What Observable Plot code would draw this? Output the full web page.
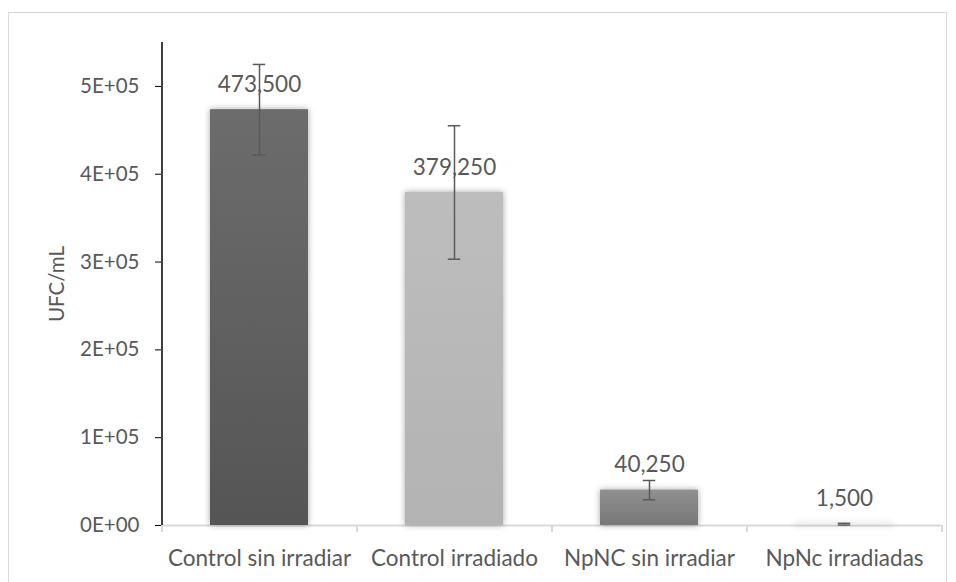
<!DOCTYPE html>
<html>
<head>
<meta charset="utf-8">
<script src="https://cdn.jsdelivr.net/npm/d3@7"></script>
<script src="https://cdn.jsdelivr.net/npm/@observablehq/plot@0.6"></script>
<style>
  html, body { margin: 0; padding: 0; background: #fff; overflow: hidden; }
  #wrap { position: relative; width: 956px; height: 582px; }
  #frame { position: absolute; left: 8px; top: 12px; width: 939px; height: 600px;
           border: 1.5px solid #d9d9d9; box-sizing: border-box; }
  #chart { position: absolute; left: 0; top: 0; }
  .bars rect { filter: drop-shadow(0px 0px 3px rgba(0,0,0,0.35)); }
</style>
</head>
<body>
<div id="wrap"><div id="frame"></div><div id="chart"></div></div>
<script>
const categories = ["Control sin irradiar", "Control irradiado", "NpNC sin irradiar", "NpNc irradiadas"];
const values = [473500, 379250, 40250, 1500];
const errors = [51500, 76000, 11000, 1000];
const yTicks = [0, 100000, 200000, 300000, 400000, 500000];
const yTickLabels = ["0E+00", "1E+05", "2E+05", "3E+05", "4E+05", "5E+05"];
const yMax = 550000;
const yLabel = "UFC/mL";

// gradient styles (top, bottom) per bar
const gradients = [["#6c6c6c", "#555555"], ["#bdbdbd", "#b3b3b3"], ["#909090", "#787878"], ["#ececec", "#e2e2e2"]];

const data = categories.map((c, i) => ({cat: c, value: values[i], err: errors[i], idx: i}));

const W = 956, H = 582, mL = 161, mR = 15, mT = 42, mB = 57;
const step = (W - mL - mR) / categories.length;
const fontFam = "Lato, 'Open Sans', sans-serif";
const textColor = "#595959";
const fs = 22.5;

const plot = Plot.plot({
  width: W, height: H,
  marginLeft: mL, marginRight: mR, marginTop: mT, marginBottom: mB,
  style: {fontFamily: fontFam, fontSize: fs + "px", color: textColor, background: "transparent", overflow: "visible"},
  x: {domain: categories, paddingInner: 0.5, paddingOuter: 0.25},
  y: {domain: [0, yMax]},
  color: {type: "identity"},
  marks: [
    Plot.ruleY([0], {stroke: "#d9d9d9", strokeWidth: 2}),
    Plot.ruleX(categories, {x: d => d, dx: -step / 2, y1: 0, y2: 0, insetBottom: -7, stroke: "#d9d9d9", strokeWidth: 2}),
    Plot.ruleX([categories[categories.length - 1]], {x: d => d, dx: step / 2, y1: 0, y2: 0, insetBottom: -7, stroke: "#d9d9d9", strokeWidth: 2}),
    Plot.barY(data, {x: "cat", y: "value", fill: d => `url(#grad${d.idx})`, className: "bars"}),
    Plot.ruleX(data, {x: "cat", y1: d => d.value - d.err, y2: d => d.value + d.err, stroke: "#595959", strokeWidth: 1.5}),
    Plot.tickY(data, {x: "cat", y: d => d.value + d.err, stroke: "#595959", strokeWidth: 1.5, insetLeft: (step / 2 - 12) / 2, insetRight: (step / 2 - 12) / 2}),
    Plot.tickY(data, {x: "cat", y: d => d.value - d.err, stroke: "#595959", strokeWidth: 1.5, insetLeft: (step / 2 - 12) / 2, insetRight: (step / 2 - 12) / 2}),
    Plot.text(data, {x: "cat", y: "value", text: d => d3.format(",")(d.value), dy: -25, fill: textColor, fontSize: fs}),
    Plot.axisX({tickSize: 0, tickPadding: 25, fontSize: fs, fill: textColor, label: null}),
    Plot.axisY({ticks: yTicks, tickFormat: (d) => yTickLabels[yTicks.indexOf(d)], tickSize: 6, tickPadding: 16,
                stroke: "#000", fontSize: 20.5, fill: textColor,
                label: yLabel, labelAnchor: "center", labelArrow: "none", labelOffset: 112}),
    Plot.ruleX([categories[0]], {x: d => d, dx: -step / 2, y1: 0, y2: yMax, stroke: "#000", strokeWidth: 1.5})
  ]
});

const svg = d3.select(plot);
const defs = svg.insert("defs", ":first-child");
gradients.forEach((g, i) => {
  const lg = defs.append("linearGradient").attr("id", `grad${i}`).attr("x1", 0).attr("y1", 0).attr("x2", 0).attr("y2", 1);
  lg.append("stop").attr("offset", "0%").attr("stop-color", g[0]);
  lg.append("stop").attr("offset", "100%").attr("stop-color", g[1]);
});

document.getElementById("chart").appendChild(plot);
</script>
</body>
</html>
